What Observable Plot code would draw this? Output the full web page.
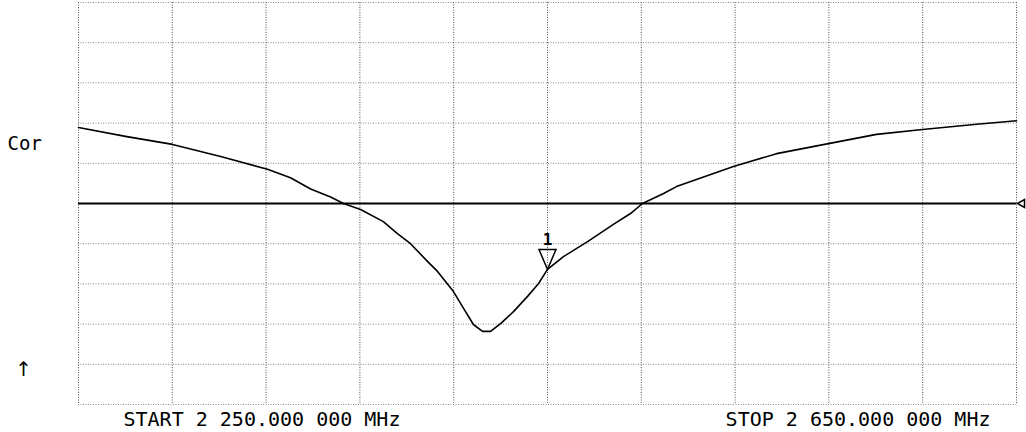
<!DOCTYPE html>
<html>
<head>
<meta charset="utf-8">
<script src="https://cdn.jsdelivr.net/npm/d3@7"></script>
<script src="https://cdn.jsdelivr.net/npm/@observablehq/plot@0.6"></script>
<style>
  html, body { margin: 0; padding: 0; background: #fff; }
  #chart svg { display: block; }
</style>
</head>
<body>
<div id="chart"></div>
<script>
// Sweep: frequency (MHz) and trace value (in screen divisions relative to reference line)
const freqMHz = [2250, 2270, 2290.1, 2310.6, 2330.6, 2340.4, 2349, 2357.5, 2363, 2370.3, 2380, 2386, 2391.6, 2398.8, 2403.1, 2409.9, 2414.2, 2418.4, 2422.3, 2425.7, 2430, 2435.5, 2441.5, 2446.2, 2450, 2456.8, 2467.1, 2478.1, 2485.4, 2490.5, 2499.5, 2505, 2513.5, 2529.3, 2547.7, 2569.8, 2590.3, 2609.9, 2633, 2650];
const traceDiv = [1.89, 1.67, 1.47, 1.17, 0.85, 0.64, 0.36, 0.16, 0, -0.15, -0.45, -0.75, -1.0, -1.44, -1.69, -2.19, -2.61, -3.01, -3.18, -3.18, -2.99, -2.69, -2.31, -1.99, -1.64, -1.32, -0.95, -0.52, -0.25, 0, 0.25, 0.42, 0.60, 0.92, 1.24, 1.49, 1.72, 1.84, 1.97, 2.06];

// Grid
const xGrid = [2250, 2290, 2330, 2370, 2410, 2450, 2490, 2530, 2570, 2610, 2650];
const yGrid = [-5, -4, -3, -2, -1, 0, 1, 2, 3, 4, 5];
const refValue = [0];

// Marker 1
const markerFreq = [2450];
const markerVal = [-1.64];
const markerLabel = ["1"];

// Annotations
const startLabel = ["START 2 250.000 000 MHz"];
const stopLabel = ["STOP 2 650.000 000 MHz"];
const corLabel = ["Cor"];
const arrowLabel = ["\u2191"];

const trace = freqMHz.map((f, i) => ({f, v: traceDiv[i]}));
const FONT = "DejaVu Sans Mono";

const markerTri = {
  draw(ctx) {
    ctx.moveTo(0, 0);
    ctx.lineTo(-8.5, -20);
    ctx.lineTo(8.5, -20);
    ctx.closePath();
  }
};
const refTri = {
  draw(ctx) {
    ctx.moveTo(1, 0);
    ctx.lineTo(8, -4);
    ctx.lineTo(8, 4);
    ctx.closePath();
  }
};

const chart = Plot.plot({
  width: 1026,
  height: 432,
  marginTop: 2,
  marginBottom: 28,
  marginLeft: 78,
  marginRight: 10,
  style: {fontFamily: FONT, background: "#fff"},
  x: {domain: [2250, 2650], axis: null},
  y: {domain: [-5, 5], axis: null},
  marks: [
    Plot.ruleX(xGrid, {stroke: "#333", strokeWidth: 1, strokeDasharray: "1,1.5", strokeOpacity: 0.85}),
    Plot.ruleY(yGrid, {stroke: "#555", strokeWidth: 1, strokeDasharray: "1,1.5", strokeOpacity: 0.7}),
    Plot.ruleY(refValue, {stroke: "#000", strokeWidth: 2}),
    Plot.dot(refValue, {x: () => 2650, y: d => d, symbol: refTri, stroke: "#000", fill: "#fff", strokeWidth: 1.5}),
    Plot.line(trace, {x: "f", y: "v", stroke: "#000", strokeWidth: 1.6}),
    Plot.dot(markerFreq, {x: d => d, y: (d, i) => markerVal[i], symbol: markerTri, stroke: "#000", fill: "none", strokeWidth: 1.5}),
    Plot.text(markerLabel, {x: () => markerFreq[0], y: () => markerVal[0], text: d => d, dy: -24, lineAnchor: "bottom", fontSize: 16, fontWeight: "bold", fill: "#000"}),
    Plot.text(startLabel, {x: () => 2250, y: () => -5, text: d => d, dx: 45, dy: 21, textAnchor: "start", lineAnchor: "bottom", fontSize: 20, fill: "#000"}),
    Plot.text(stopLabel, {x: () => 2650, y: () => -5, text: d => d, dx: -26, dy: 21, textAnchor: "end", lineAnchor: "bottom", fontSize: 20, fill: "#000"}),
    Plot.text(corLabel, {x: () => 2250, y: () => 0, text: d => d, dx: -71, dy: -54, textAnchor: "start", lineAnchor: "bottom", fontSize: 19, fill: "#000"}),
    Plot.text(arrowLabel, {x: () => 2250, y: () => 0, text: d => d, dx: -55, dy: 172, textAnchor: "middle", lineAnchor: "bottom", fontSize: 20, fontFamily: "DejaVu Sans", fill: "#000"})
  ]
});
document.getElementById("chart").appendChild(chart);
</script>
</body>
</html>
